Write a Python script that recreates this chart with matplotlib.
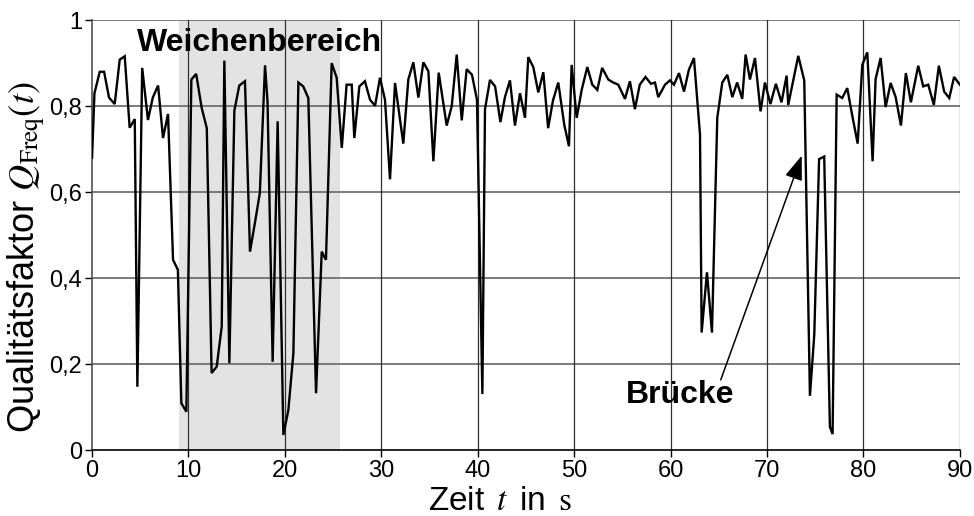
import matplotlib
matplotlib.use("Agg")
import matplotlib.pyplot as plt

plt.rcParams['font.family'] = ['Liberation Sans', 'DejaVu Sans']
plt.rcParams['mathtext.fontset'] = 'stix'

# time in s
time_s = [0.0, 0.25, 0.8, 1.25, 1.76, 2.35, 2.87, 3.39, 3.9, 4.43, 4.7, 5.2, 5.8, 6.3, 6.85,
          7.36, 7.88, 8.4, 8.9, 9.26, 9.78, 10.3, 10.8, 11.37, 11.9, 12.4, 12.93, 13.45, 13.72,
          14.24, 14.76, 15.27, 15.86, 16.38, 16.9, 17.4, 17.94, 18.2, 18.73, 19.25, 19.84,
          20.36, 20.88, 21.4, 21.9, 22.43, 23.23, 23.82, 24.26, 24.85, 25.37, 25.9, 26.4,
          26.93, 27.2, 27.72, 28.3, 28.83, 29.35, 29.86, 30.38, 30.9, 31.42, 32.28, 32.8,
          33.32, 33.84, 34.36, 34.88, 35.4, 35.95, 36.78, 37.3, 37.82, 38.34, 38.85, 39.4,
          39.92, 40.48, 40.75, 41.27, 41.8, 42.35, 42.82, 43.34, 43.86, 44.38, 44.9, 45.24,
          45.76, 46.28, 46.8, 47.3, 47.8, 48.35, 48.97, 49.46, 49.74, 50.26, 50.78, 51.36,
          51.88, 52.4, 52.9, 53.54, 54.05, 54.57, 55.27, 55.78, 56.3, 56.8, 57.4, 57.96,
          58.38, 58.72, 59.42, 59.93, 60.35, 60.87, 61.39, 61.9, 62.42, 63.05, 63.22, 63.77,
          64.29, 64.84, 65.36, 65.88, 66.4, 66.9, 67.43, 67.78, 68.23, 68.75, 69.33, 69.78,
          70.35, 70.92, 71.5, 72.03, 72.2, 73.24, 73.86, 74.45, 74.9, 75.4, 75.93, 76.52,
          76.8, 77.22, 77.8, 78.32, 78.84, 79.4, 79.88, 80.4, 80.95, 81.26, 81.78, 82.3,
          82.82, 83.34, 83.89, 84.4, 84.92, 85.68, 86.2, 86.72, 87.3, 87.82, 88.37, 88.9,
          89.4, 90.0]

# quality factor Q_Freq(t)
q_freq = [0.68, 0.83, 0.88, 0.88, 0.82, 0.805, 0.908, 0.916, 0.75, 0.77, 0.148, 0.889, 0.768,
          0.82, 0.848, 0.726, 0.782, 0.443, 0.42, 0.11, 0.09, 0.862, 0.875, 0.796, 0.749,
          0.18, 0.195, 0.288, 0.906, 0.203, 0.79, 0.848, 0.858, 0.462, 0.53, 0.598, 0.895,
          0.81, 0.206, 0.765, 0.036, 0.094, 0.226, 0.855, 0.846, 0.819, 0.133, 0.462, 0.443,
          0.9, 0.866, 0.703, 0.85, 0.85, 0.726, 0.846, 0.858, 0.815, 0.801, 0.866, 0.815,
          0.63, 0.854, 0.713, 0.862, 0.902, 0.82, 0.902, 0.881, 0.672, 0.878, 0.755, 0.8,
          0.92, 0.767, 0.886, 0.873, 0.815, 0.131, 0.793, 0.861, 0.846, 0.763, 0.821, 0.86,
          0.755, 0.83, 0.773, 0.914, 0.891, 0.832, 0.879, 0.749, 0.813, 0.855, 0.757, 0.707,
          0.896, 0.773, 0.838, 0.891, 0.85, 0.838, 0.889, 0.862, 0.855, 0.85, 0.817, 0.858,
          0.793, 0.85, 0.868, 0.852, 0.855, 0.821, 0.85, 0.86, 0.85, 0.877, 0.834, 0.885,
          0.912, 0.734, 0.274, 0.414, 0.274, 0.773, 0.855, 0.873, 0.821, 0.855, 0.817, 0.92,
          0.862, 0.912, 0.788, 0.855, 0.805, 0.852, 0.809, 0.871, 0.803, 0.917, 0.86, 0.127,
          0.269, 0.677, 0.683, 0.055, 0.038, 0.827, 0.819, 0.842, 0.778, 0.713, 0.896, 0.925,
          0.672, 0.863, 0.912, 0.798, 0.854, 0.821, 0.755, 0.877, 0.809, 0.894, 0.846, 0.85,
          0.803, 0.894, 0.834, 0.819, 0.868, 0.85]

x_ticks = [0, 10, 20, 30, 40, 50, 60, 70, 80, 90]
y_ticks = [0, 0.2, 0.4, 0.6, 0.8, 1.0]
y_tick_labels = ['0', '0,2', '0,4', '0,6', '0,8', '1']

switch_region = (9.0, 25.7)
switch_label = 'Weichenbereich'
switch_label_pos = (17.4, 0.948)
bridge_label = 'Brücke'
bridge_text_pos = (61.0, 0.129)
bridge_arrow_start = (65.2, 0.164)
bridge_arrow_tip = (73.6, 0.685)

fig = plt.figure(figsize=(9.74, 5.16), dpi=100)
ax = fig.add_axes([0.0945, 0.127, 0.891, 0.834])

ax.axvspan(switch_region[0], switch_region[1], color='#e3e3e3', zorder=0, lw=0)

for yv in y_ticks[1:]:
    ax.axhline(yv, color='#707070', lw=1.3, zorder=1)
for xv in x_ticks[1:]:
    ax.axvline(xv, color='#303030', lw=0.9, zorder=1)

ax.plot(time_s, q_freq, color='black', lw=1.7, zorder=3, solid_joinstyle='miter')

ax.set_xlim(0, 90)
ax.set_ylim(0, 1)
ax.set_xticks(x_ticks)
ax.set_yticks(y_ticks)
ax.set_yticklabels(y_tick_labels)
ax.tick_params(axis='both', direction='out', length=5, width=1, labelsize=17, colors='black', pad=2)

for s in ['top', 'right']:
    ax.spines[s].set_visible(False)
ax.spines['left'].set_color('#505050')
ax.spines['bottom'].set_color('black')
ax.spines['left'].set_linewidth(1.2)
ax.spines['bottom'].set_linewidth(1.2)

ax.set_xlabel('Zeit $\\,t\\,$ in $\\,\\mathrm{s}$', fontsize=24)
ax.xaxis.set_label_coords(0.47, -0.118, transform=ax.transAxes)
ax.xaxis.label.set_va('center')
ax.set_ylabel('Qualitätsfaktor $Q_{\\mathrm{Freq}}(t)$', fontsize=26)
ax.yaxis.set_label_coords(-0.075, 0.45, transform=ax.transAxes)
ax.yaxis.label.set_va('center')

ax.text(switch_label_pos[0], switch_label_pos[1], switch_label, fontsize=23, fontweight='bold',
        ha='center', va='center', zorder=4)
ax.text(bridge_text_pos[0], bridge_text_pos[1], bridge_label, fontsize=23, fontweight='bold',
        ha='center', va='center', zorder=4)
ax.annotate('', xy=bridge_arrow_tip, xytext=bridge_arrow_start, zorder=4,
            arrowprops=dict(arrowstyle='-|>,head_length=1.5,head_width=0.55', color='black',
                            lw=1.1, shrinkA=0, shrinkB=0))

fig.savefig('out.png', dpi=100)
